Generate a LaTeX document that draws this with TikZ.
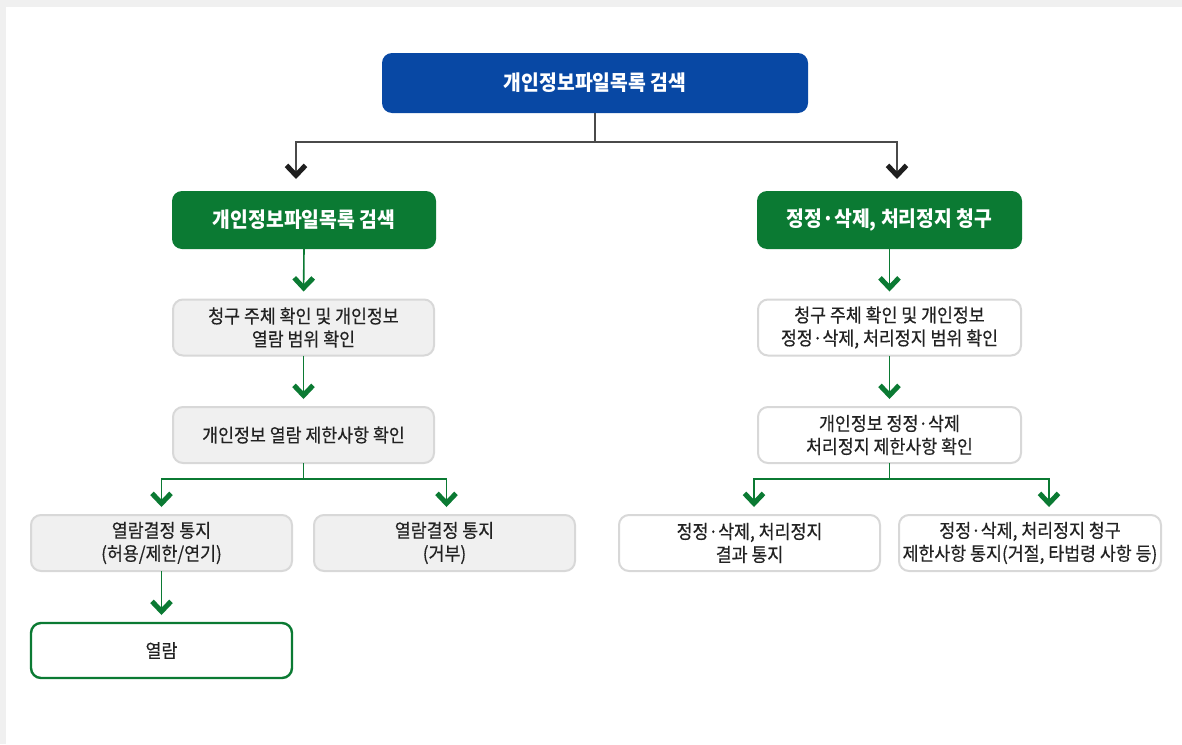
\documentclass[tikz,border=0pt]{standalone}
\usepackage{fontspec}
\setmainfont{Noto Sans CJK KR}
\newfontfamily\kr[FakeStretch=0.92,FakeBold=0.4]{Noto Sans CJK KR}
\newfontfamily\krh[FakeStretch=0.92]{Noto Sans CJK KR}
\usetikzlibrary{arrows.meta,positioning,calc}
\definecolor{pagebg}{HTML}{F0F0F0}
\definecolor{topblue}{HTML}{0848A4}
\definecolor{dgreen}{HTML}{0B7A33}
\definecolor{boxline}{HTML}{D8D8D8}
\definecolor{boxfill}{HTML}{F0F0F0}
\definecolor{txt}{HTML}{222222}
\definecolor{topline}{HTML}{4A4A4A}
\definecolor{tiptop}{HTML}{1E1E1E}
\tikzset{
  basebox/.style={rounded corners=10pt, align=center, inner sep=0pt, outer sep=0pt},
  bluebox/.style={basebox, fill=topblue, text=white, minimum width=426pt, minimum height=60pt, font=\krh\fontsize{21}{25}\selectfont\bfseries},
  greenbox/.style={basebox, fill=dgreen, text=white, minimum width=264pt, minimum height=58pt, font=\krh\fontsize{21}{25}\selectfont\bfseries},
  graybox/.style={basebox, fill=boxfill, draw=boxline, line width=2pt, text=txt, minimum width=261pt, minimum height=56pt, font=\kr\fontsize{18.8}{23}\selectfont},
  whitebox/.style={basebox, fill=white, draw=boxline, line width=2pt, text=txt, minimum width=261pt, minimum height=56pt, font=\kr\fontsize{18.8}{23}\selectfont},
  endbox/.style={basebox, fill=white, draw=dgreen, line width=2.4pt, text=txt, minimum width=261pt, minimum height=55pt, font=\kr\fontsize{18.8}{23}\selectfont},
  garrow/.style={draw=dgreen, line width=1.6pt, -{Straight Barb[length=10pt,width=19pt,line width=5pt]}, shorten >=8pt},
  gline/.style={draw=dgreen, line width=1.6pt},
  karrow/.style={draw=topline, line width=1.6pt, -{Straight Barb[length=10pt,width=19pt,line width=5pt,color=tiptop]}, shorten >=12pt},
}
\begin{document}
\begin{tikzpicture}[x=1pt,y=-1pt]
\fill[pagebg] (0,0) rectangle (1182,744);
\fill[white] (6,7) rectangle (1182,744);
\useasboundingbox (0,0) rectangle (1182,744);

\node[bluebox] (top) at (595,83) {개인정보파일목록 검색};
\node[greenbox] (gL) at (304,220) {개인정보파일목록 검색};
\node[greenbox, minimum width=265pt] (gR) at (889.5,220) {정정·삭제, 처리정지 청구};

\node[graybox] (L1) at (303.5,327.5) {청구 주체 확인 및 개인정보\\열람 범위 확인};
\node[graybox] (L2) at (303.5,435) {개인정보 열람 제한사항 확인};
\node[graybox] (L3a) at (161.5,543) {열람결정 통지\\(허용/제한/연기)};
\node[graybox] (L3b) at (444.5,543) {열람결정 통지\\(거부)};
\node[endbox] (L4) at (161.5,650.5) {열람};

\node[whitebox, minimum width=263pt] (R1) at (889.5,327.5) {청구 주체 확인 및 개인정보\\정정·삭제, 처리정지 범위 확인};
\node[whitebox, minimum width=263pt] (R2) at (889.5,435) {개인정보 정정·삭제\\처리정지 제한사항 확인};
\node[whitebox] (R3a) at (749.5,543) {정정·삭제, 처리정지\\결과 통지};
\node[whitebox, minimum width=262pt] (R3b) at (1030,543) {정정·삭제, 처리정지 청구\\제한사항 통지(거절, 타법령 사항 등)};

% top split
\coordinate (tj) at ($(top.south)+(0,29)$);
\draw[topline, line width=1.6pt] (top.south) -- (tj);
\draw[karrow] (tj) -| ([xshift=-8pt]gL.north);
\draw[karrow] (tj) -| ([xshift=7.5pt]gR.north);

% left column
\draw[garrow] (gL.south) -- (L1.north);
\draw[garrow] (L1.south) -- (L2.north);
\coordinate (lj) at ($(L2.south)+(0,16)$);
\draw[gline] (L2.south) -- (lj);
\draw[garrow] (lj) -| (L3a.north);
\draw[garrow] (lj) -| ([xshift=2pt]L3b.north);
\draw[garrow] (L3a.south) -- (L4.north);

% right column
\draw[garrow] (gR.south) -- (R1.north);
\draw[garrow] (R1.south) -- (R2.north);
\coordinate (rj) at ($(R2.south)+(0,16)$);
\draw[gline] (R2.south) -- (rj);
\draw[garrow] (rj) -| ([xshift=4.5pt]R3a.north);
\draw[garrow] (rj) -| ([xshift=19pt]R3b.north);
\end{tikzpicture}
\end{document}
